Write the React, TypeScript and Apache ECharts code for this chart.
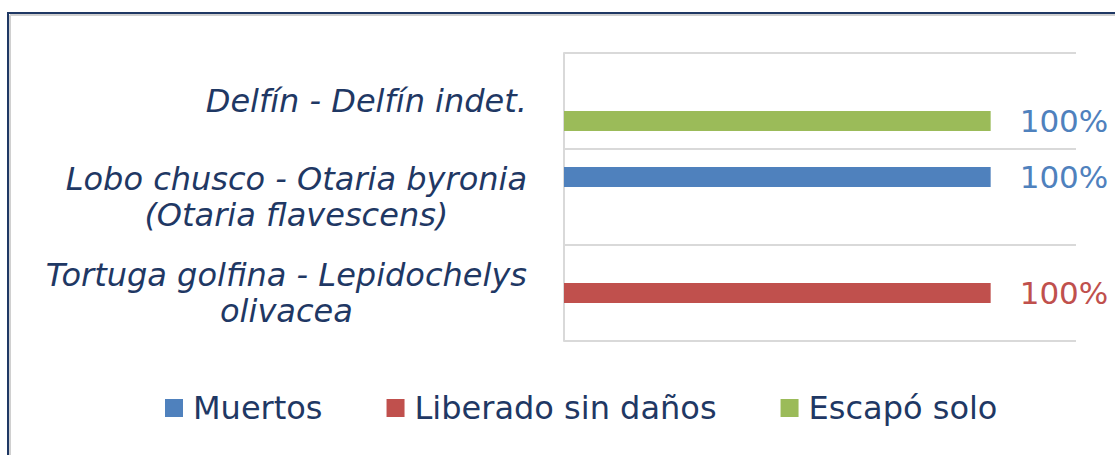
import React, { useEffect, useRef } from "react";
import * as echarts from "echarts";

const categories = [
  "Delfín - Delfín indet.",
  "Lobo chusco - Otaria byronia\n(Otaria flavescens)",
  "Tortuga golfina - Lepidochelys\nolivacea",
];
const seriesNames = ["Muertos", "Liberado sin daños", "Escapó solo"];
const muertos = [null, 100, null];
const liberado = [null, null, 100];
const escapo = [100, null, null];
const seriesColors = ["#4F81BD", "#C0504D", "#9BBB59"];
const labelColors = ["#4F81BD", "#C0504D", "#4F81BD"];

const NAVY = "#1F3864";
const FONT = "DejaVu Sans";

export default function App() {
  const ref = useRef<HTMLDivElement>(null);
  useEffect(() => {
    if (!ref.current) return;
    const chart = echarts.init(ref.current, undefined, { renderer: "svg" });
    const values = [muertos, liberado, escapo];
    chart.setOption({
      animation: false,
      backgroundColor: "#ffffff",
      grid: { left: 564, right: 39, top: 53, bottom: 114, containLabel: false },
      xAxis: {
        type: "value",
        min: 0,
        max: 120,
        show: false,
        splitLine: { show: false },
      },
      yAxis: {
        type: "category",
        inverse: true,
        data: categories,
        axisTick: { show: false },
        axisLine: { show: true, lineStyle: { color: "#d9d9d9", width: 2 } },
        splitLine: { show: true, lineStyle: { color: "#d9d9d9", width: 2 } },
        axisLabel: {
          margin: 37,
          formatter: (v: string) =>
            v
              .split("\n")
              .map((l) => "{c|" + l + "}")
              .join("\n"),
          rich: {
            c: {
              align: "center",
              fontFamily: FONT,
              fontStyle: "italic",
              fontSize: 32,
              lineHeight: 36,
              color: NAVY,
            },
          },
        },
      },
      legend: {
        bottom: 26,
        left: 160,
        itemWidth: 18,
        itemHeight: 18,
        itemGap: 64,
        icon: "rect",
        textStyle: {
          fontFamily: FONT,
          fontSize: 32,
          color: NAVY,
          padding: [0, 0, 0, 5],
        },
        data: seriesNames,
      },
      series: seriesNames.map((name, i) => ({
        name,
        type: "bar",
        data: values[i],
        barWidth: 20,
        barGap: "0%",
        barCategoryGap: "37.5%",
        itemStyle: { color: seriesColors[i] },
        label: {
          show: true,
          position: "right",
          distance: 29,
          formatter: "{c}%",
          fontFamily: FONT,
          fontSize: 31,
          color: labelColors[i],
        },
      })),
      graphic: [
        {
          type: "line",
          shape: { x1: 9, y1: 13, x2: 1115, y2: 13 },
          style: { stroke: NAVY, lineWidth: 2 },
        },
        {
          type: "line",
          shape: { x1: 8, y1: 12, x2: 8, y2: 455 },
          style: { stroke: NAVY, lineWidth: 2 },
        },
        {
          type: "line",
          shape: { x1: 10, y1: 15, x2: 1115, y2: 15 },
          style: { stroke: "#d0d0d0", lineWidth: 2 },
        },
        {
          type: "line",
          shape: { x1: 10, y1: 15, x2: 10, y2: 455 },
          style: { stroke: "#d0d0d0", lineWidth: 2 },
        },
      ],
    });
    return () => chart.dispose();
  }, []);
  return (
    <div
      ref={ref}
      style={{ position: "fixed", left: 0, top: 0, width: 1115, height: 455 }}
    />
  );
}
